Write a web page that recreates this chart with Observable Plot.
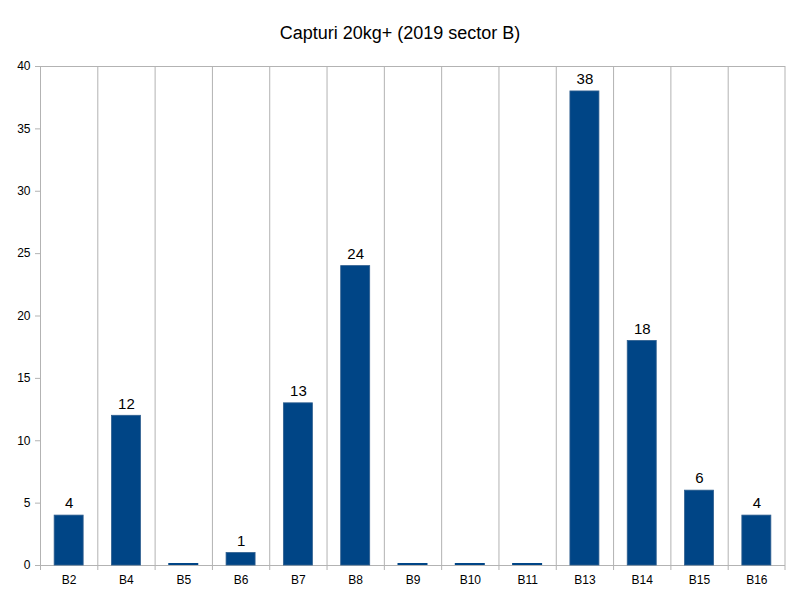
<!DOCTYPE html>
<html>
<head>
<meta charset="utf-8">
<script src="https://cdn.jsdelivr.net/npm/d3@7"></script>
<script src="https://cdn.jsdelivr.net/npm/@observablehq/plot@0.6"></script>
<style>
  html, body { margin: 0; padding: 0; background: #fff; }
  #wrap { width: 800px; height: 600px; font-family: "Liberation Sans", Arial, sans-serif; }
  #title { height: 50px; line-height: 66px; text-align: center; font-size: 18px; color: #000; }
  svg { display: block; }
</style>
</head>
<body>
<div id="wrap">
  <div id="title">Capturi 20kg+ (2019 sector B)</div>
  <div id="chart"></div>
</div>
<script>
const categories = ["B2","B4","B5","B6","B7","B8","B9","B10","B11","B13","B14","B15","B16"];
const values = [4, 12, 0, 1, 13, 24, 0, 0, 0, 38, 18, 6, 4];
const yTicks = [0, 5, 10, 15, 20, 25, 30, 35, 40];

const data = categories.map((c, i) => ({cat: c, v: values[i]}));

const W = 800, H = 550, ML = 40, MR = 15, MT = 16, MB = 35;
const bw = (W - ML - MR) / categories.length;
const barInset = (bw - 29) / 2;
const barColor = "#004586";
const gridColor = "#b3b3b3";

const chart = Plot.plot({
  width: W,
  height: H,
  marginLeft: ML,
  marginRight: MR,
  marginTop: MT,
  marginBottom: MB,
  style: {fontFamily: "Liberation Sans, Arial, sans-serif", fontSize: "12px", color: "#000", background: "#fff"},
  x: {domain: categories, padding: 0, round: false, label: null},
  y: {domain: [0, 40], label: null},
  marks: [
    Plot.ruleX(categories, {x: d => d, dx: -bw / 2, stroke: gridColor, insetBottom: -5}),
    Plot.ruleX([categories[categories.length - 1]], {x: d => d, dx: bw / 2 - 0.5, stroke: gridColor, insetBottom: -5}),
    Plot.ruleY([40], {stroke: gridColor}),
    Plot.ruleY([0], {stroke: gridColor}),
    Plot.axisY({ticks: yTicks, tickSize: 5, tickPadding: 5, stroke: gridColor, fontSize: 12, fill: "#000"}),
    Plot.axisX({tickSize: 0, tickPadding: 10, fontSize: 12, fill: "#000"}),
    Plot.barY(data.filter(d => d.v > 0), {x: "cat", y: "v", fill: barColor, stroke: "#2f5f8f", strokeWidth: 0.8, insetLeft: barInset, insetRight: barInset}),
    Plot.tickY(data.filter(d => d.v === 0), {x: "cat", y: "v", stroke: barColor, strokeWidth: 2, dy: -1.5, insetLeft: barInset - 0.5, insetRight: barInset - 0.5}),
    Plot.text(data.filter(d => d.v > 0), {x: "cat", y: "v", text: d => String(d.v), dy: -12, fontSize: 15, fill: "#000"})
  ]
});
document.getElementById("chart").appendChild(chart);
</script>
</body>
</html>
